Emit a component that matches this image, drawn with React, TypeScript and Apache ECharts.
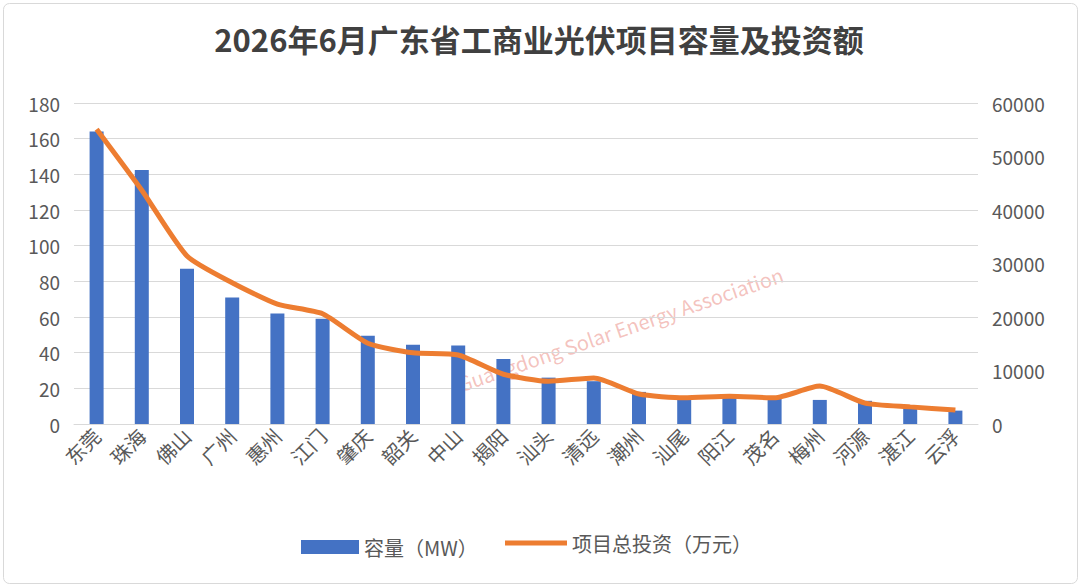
import { useEffect, useRef } from 'react'
import * as echarts from 'echarts'

const cities = ['东莞', '珠海', '佛山', '广州', '惠州', '江门', '肇庆', '韶关', '中山', '揭阳', '汕头', '清远', '潮州', '汕尾', '阳江', '茂名', '梅州', '河源', '湛江', '云浮']
const capacity = [164, 142.5, 87, 71, 62, 59, 49.5, 44.5, 44, 36.5, 26, 24, 18, 14.5, 15, 14, 13.5, 13, 9, 7.5]
const investment = [55100, 43700, 31400, 26400, 22400, 20600, 15100, 13300, 12900, 9300, 8000, 8600, 5600, 4900, 5200, 4900, 7100, 3900, 3200, 2600]

const font = '"Noto Sans CJK SC", "Noto Sans", sans-serif'

export default function App() {
  const rootRef = useRef<HTMLDivElement | null>(null)
  useEffect(() => {
    if (!rootRef.current) return
    const chart = echarts.init(rootRef.current, undefined, { renderer: 'svg' })
    chart.setOption({
      animation: false,
      textStyle: { fontFamily: font },
      title: {
        text: '2026年6月广东省工商业光伏项目容量及投资额',
        left: 'center', top: 18,
        textStyle: { fontSize: 31, fontWeight: 'bold', color: '#404040', fontFamily: font },
      },
      graphic: [
        { type: 'rect', left: 1, top: 1, shape: { width: 1074, height: 580, r: 6 }, style: { fill: 'none', stroke: '#d9d9d9', lineWidth: 1 } },
        { type: 'text', x: 455, y: 375, rotation: 0.33, style: { text: 'Guangdong Solar Energy Association', fontSize: 20, fill: 'rgba(230,120,110,0.45)', fontFamily: font } },
      ],
      legend: [
        {
          left: 296, bottom: 22, itemWidth: 58, itemHeight: 14,
          textStyle: { fontSize: 20, color: '#595959' },
          data: [{ name: '容量（MW）', icon: 'rect' }],
        },
        {
          left: 500, bottom: 26, itemWidth: 62, itemHeight: 5,
          textStyle: { fontSize: 20, color: '#595959' },
          data: [{ name: '项目总投资（万元）', icon: 'rect', itemStyle: { color: '#ed7d31' } }],
        },
      ],
      grid: { left: 74, right: 100, top: 103, bottom: 160 },
      xAxis: {
        type: 'category', data: cities,
        axisTick: { show: false },
        axisLine: { lineStyle: { color: '#d9d9d9' } },
        axisLabel: { rotate: 45, fontSize: 20, color: '#595959', interval: 0 },
      },
      yAxis: [
        {
          type: 'value', min: 0, max: 180, interval: 20,
          axisLabel: { fontSize: 19, color: '#595959', margin: 14 },
          splitLine: { lineStyle: { color: '#d9d9d9' } },
        },
        {
          type: 'value', min: 0, max: 60000, interval: 10000,
          axisLabel: { fontSize: 19, color: '#595959', margin: 14, formatter: (v: number) => String(v) },
          splitLine: { show: false },
        },
      ],
      series: [
        { name: '容量（MW）', type: 'bar', data: capacity, barWidth: 14, itemStyle: { color: '#4472c4' } },
        { name: '项目总投资（万元）', type: 'line', yAxisIndex: 1, data: investment, symbol: 'none', smooth: 0.2, lineStyle: { color: '#ed7d31', width: 5 }, itemStyle: { color: '#ed7d31' } },
      ],
    })
    return () => chart.dispose()
  }, [])

  return <div ref={rootRef} style={{ position: 'fixed', left: 0, top: 0, width: 1078, height: 584, background: '#fff' }} />
}
